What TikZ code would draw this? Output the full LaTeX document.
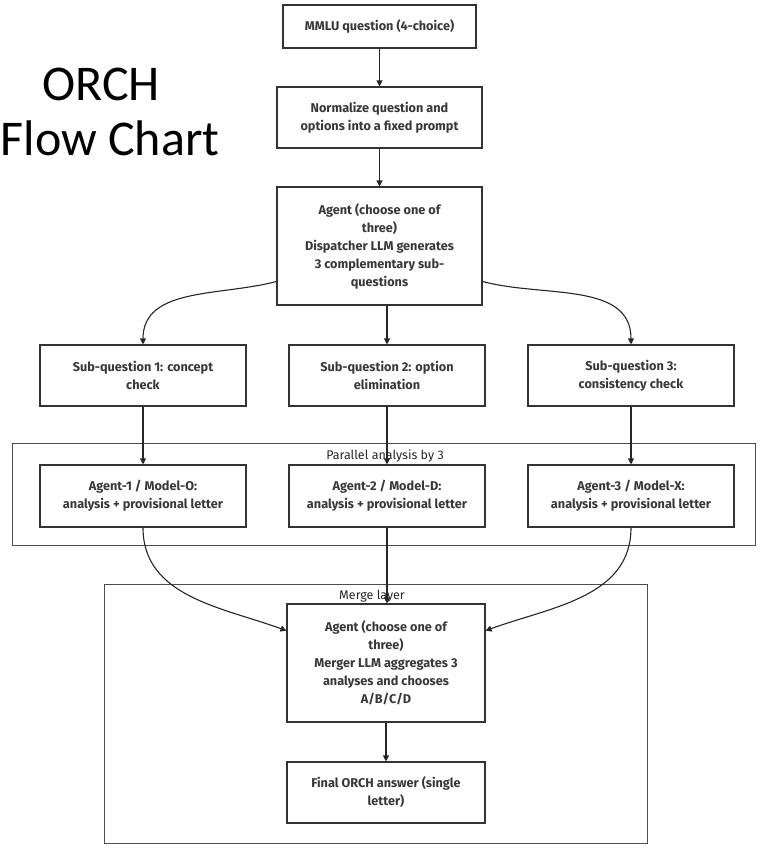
\documentclass[tikz,border=0pt]{standalone}
\usepackage{fontspec}
\setmainfont{Fira Sans}
\newfontfamily\titlefont{Carlito}
\usetikzlibrary{arrows.meta}
\begin{document}
\begin{tikzpicture}[x=1pt,y=-1pt,
  box/.style={draw=black!80, line width=1.1pt, fill=white, align=center, inner sep=0pt,
    font=\bfseries\fontsize{12.7}{18}\selectfont, text=black!78},
  grp/.style={draw=black!70, line width=1pt, inner sep=0pt},
  grptitle/.style={font=\fontsize{12.5}{14}\selectfont, text=black!85, inner sep=1pt},
  arr/.style={draw=black!85, line width=1.1pt, -{Triangle[length=6pt,width=6pt]}},
]
\useasboundingbox (0,0) rectangle (767,849);

% title
\node[font=\titlefont\fontsize{50}{55}\selectfont, inner sep=0pt, anchor=base] (t1) at (101,100) {ORCH};
\node[font=\titlefont\fontsize{50}{55}\selectfont, inner sep=0pt, anchor=base] (t2) at (110,155) {Flow Chart};

% groups
\node[grp, minimum width=743, minimum height=102] (par) at (383.5,494) {};
\node[grptitle] (partitle) at (385,456) {Parallel analysis by 3};
\node[grp, minimum width=543, minimum height=259] (mrg) at (375.5,713.5) {};
\node[grptitle] (mrgtitle) at (372,596) {Merge layer};

% nodes
\node[box, minimum width=193, minimum height=43] (mmlu) at (379.5,26.5) {MMLU question (4-choice)};
\node[box, minimum width=205, minimum height=61] (norm) at (379.5,117.5) {Normalize question and\\options into a fixed prompt};
\node[box, minimum width=205, minimum height=118] (disp) at (379.5,246) {Agent (choose one of\\three)\\Dispatcher LLM generates\\3 complementary sub-\\questions};

\node[box, minimum width=206, minimum height=61] (sq1) at (143,375.5) {Sub-question 1: concept\\check};
\node[box, minimum width=196, minimum height=61] (sq2) at (387,375.5) {Sub-question 2: option\\elimination};
\node[box, minimum width=206, minimum height=61] (sq3) at (631,375.5) {Sub-question 3:\\consistency check};

\node[box, minimum width=206, minimum height=62] (a1) at (143,496) {Agent-1 / Model-O:\\analysis + provisional letter};
\node[box, minimum width=196, minimum height=62] (a2) at (387,496) {Agent-2 / Model-D:\\analysis + provisional letter};
\node[box, minimum width=206, minimum height=62] (a3) at (631,496) {Agent-3 / Model-X:\\analysis + provisional letter};

\node[box, minimum width=198, minimum height=118] (mg) at (386,663) {Agent (choose one of\\three)\\Merger LLM aggregates 3\\analyses and chooses\\A/B/C/D};
\node[box, minimum width=198, minimum height=61] (fin) at (386,792.5) {Final ORCH answer (single\\letter)};

% connectors
\draw[arr] (mmlu.south) -- (norm.north);
\draw[arr] (norm.south) -- (disp.north);
\draw[arr] (disp.199) to[out=195,in=90] (sq1.north);
\draw[arr] (disp.south -| sq2.north) -- (sq2.north);
\draw[arr] (disp.-19) to[out=-15,in=90] (sq3.north);
\draw[arr] (sq1.south) -- (a1.north);
\draw[arr] (sq2.south) -- (a2.north);
\draw[arr] (sq3.south) -- (a3.north);
\draw[arr] (a1.south) to[out=-90,in=160] (mg.162);
\draw[arr] (a2.south) -- (a2.south |- mg.north);
\draw[arr] (a3.south) to[out=-90,in=20] (mg.18);
\draw[arr] (mg.south) -- (fin.north);
\end{tikzpicture}
\end{document}
